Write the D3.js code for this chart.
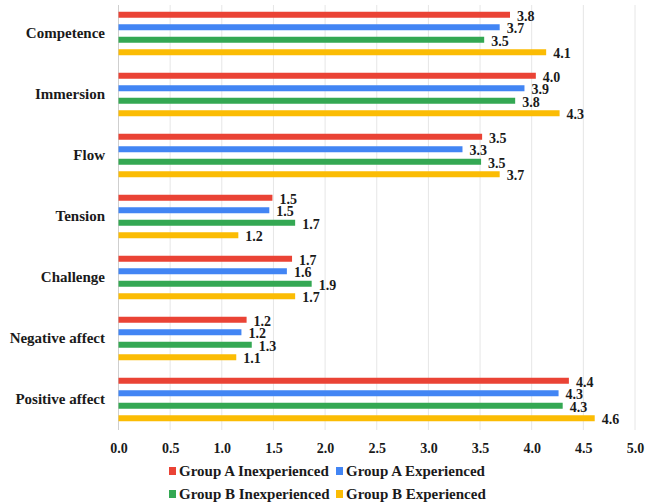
<!DOCTYPE html>
<html>
<head>
<meta charset="utf-8">
<script src="https://cdn.jsdelivr.net/npm/d3@7"></script>
<style>
  html, body { margin: 0; padding: 0; background: #fff; }
  svg { display: block; }
</style>
</head>
<body>
<svg id="chart" width="645" height="504"></svg>
<script>
// Questionnaire dimensions (top to bottom)
const categories = ["Competence", "Immersion", "Flow", "Tension", "Challenge", "Negative affect", "Positive affect"];

// Mean scores per group, in category order
const groupAInexperienced = [3.79, 4.04, 3.52, 1.49, 1.68, 1.24, 4.36];
const groupAExperienced   = [3.69, 3.93, 3.33, 1.46, 1.63, 1.19, 4.26];
const groupBInexperienced = [3.54, 3.84, 3.51, 1.71, 1.87, 1.29, 4.30];
const groupBExperienced   = [4.14, 4.27, 3.69, 1.16, 1.71, 1.14, 4.61];

const seriesNames = ["Group A Inexperienced", "Group A Experienced", "Group B Inexperienced", "Group B Experienced"];
const seriesColors = ["#EA4335", "#4285F4", "#34A853", "#FBBC04"];
const tickValues = [0, 0.5, 1, 1.5, 2, 2.5, 3, 3.5, 4, 4.5, 5];

const seriesValues = [groupAInexperienced, groupAExperienced, groupBInexperienced, groupBExperienced];
const series = seriesNames.map((name, i) => ({ name, color: seriesColors[i], values: seriesValues[i] }));

const FONT = "'Liberation Serif', 'Times New Roman', serif";
const TEXT_COLOR = "#1a1a1a";

// Apply the shared text style directly on each text node
function styleText(sel, size) {
  sel.attr("font-family", FONT)
     .attr("font-weight", "bold")
     .attr("font-size", size)
     .attr("fill", TEXT_COLOR);
}

const svg = d3.select("#chart");

const x = d3.scaleLinear().domain([0, 5]).range([118.5, 635]);
const y0 = d3.scaleBand().domain(categories).range([3, 430]).padding(0);
const y1 = d3.scaleBand().domain(seriesNames).range([0, y0.bandwidth()])
  .paddingInner(0.52).paddingOuter(0.7);

// Vertical gridlines
svg.append("g")
  .selectAll("line")
  .data(tickValues.slice(1))
  .join("line")
  .attr("x1", d => x(d)).attr("x2", d => x(d))
  .attr("y1", 5).attr("y2", 430)
  .attr("stroke", "#e6e6e6").attr("stroke-width", 1);

// Category axis line
svg.append("line")
  .attr("x1", x(0)).attr("x2", x(0))
  .attr("y1", 5).attr("y2", 430)
  .attr("stroke", "#cfcfcf").attr("stroke-width", 1);

// Value axis tick labels
const xAxis = d3.axisBottom(x).tickValues(tickValues).tickFormat(d3.format(".1f")).tickSize(0).tickPadding(0);
const xg = svg.append("g").attr("transform", "translate(0,430)").call(xAxis);
xg.select(".domain").remove();
xg.selectAll("text").attr("y", 13).call(styleText, 14);

// Category labels
const yAxis = d3.axisLeft(y0).tickSize(0).tickPadding(0);
const yg = svg.append("g").attr("transform", "translate(105,0)").call(yAxis);
yg.select(".domain").remove();
yg.selectAll("text").attr("dy", "0.32em").call(styleText, 15);

// Bars and value labels
const groups = svg.append("g")
  .selectAll("g")
  .data(categories)
  .join("g")
  .attr("transform", d => `translate(0,${y0(d)})`);

const fmt = d3.format(".1f");

groups.selectAll("rect")
  .data((c, ci) => series.map(s => ({ s, v: s.values[ci] })))
  .join("rect")
  .attr("x", x(0))
  .attr("y", d => y1(d.s.name))
  .attr("width", d => x(d.v) - x(0))
  .attr("height", y1.bandwidth())
  .attr("fill", d => d.s.color);

groups.selectAll("text.val")
  .data((c, ci) => series.map(s => ({ s, v: s.values[ci] })))
  .join("text")
  .attr("class", "val")
  .attr("x", d => x(d.v) + 7)
  .attr("y", d => y1(d.s.name) + y1.bandwidth() / 2 + 1)
  .attr("dy", "0.35em")
  .call(styleText, 14)
  .text(d => fmt(d.v));

// Legend, two rows of two
const legend = svg.append("g")
  .selectAll("g")
  .data(series)
  .join("g")
  .attr("transform", (d, i) => `translate(${i % 2 === 0 ? 169 : 336},${i < 2 ? 471 : 494})`);

legend.append("rect")
  .attr("x", 0).attr("y", -4)
  .attr("width", 7).attr("height", 8)
  .attr("fill", d => d.color);

legend.append("text")
  .attr("x", 10)
  .attr("dy", "0.33em")
  .call(styleText, 15)
  .text(d => d.name);
</script>
</body>
</html>
